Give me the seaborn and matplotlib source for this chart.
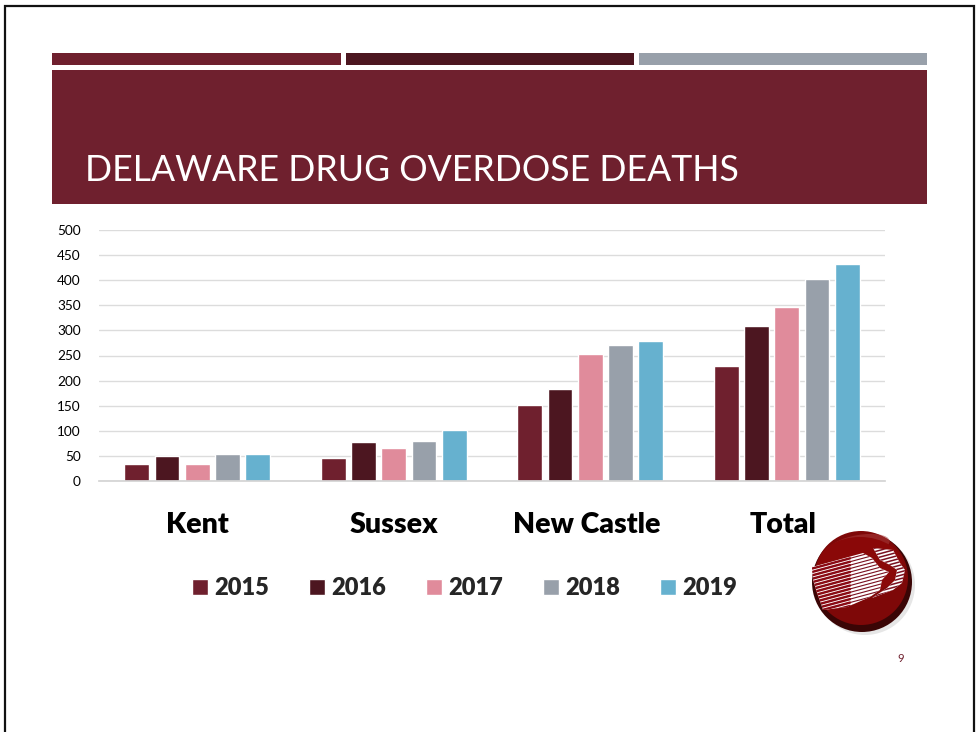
# %%
import numpy as np
import pandas as pd
import seaborn as sns
import matplotlib.pyplot as plt
from matplotlib.patches import Rectangle, Circle, Polygon, Ellipse
from matplotlib.transforms import ScaledTranslation

W, H = 976, 732

counties = ["Kent", "Sussex", "New Castle", "Total"]
years = ["2015", "2016", "2017", "2018", "2019"]
deaths_2015 = [34, 46, 152, 230]
deaths_2016 = [50, 77, 184, 309]
deaths_2017 = [33, 65, 252, 347]
deaths_2018 = [53, 79, 271, 402]
deaths_2019 = [54, 101, 279, 433]
y_ticks = [0, 50, 100, 150, 200, 250, 300, 350, 400, 450, 500]
year_colors = ["#6F202E", "#4C1620", "#E08B9B", "#98A0AA", "#66B1CF"]
title = "DELAWARE DRUG OVERDOSE DEATHS"

sns.set_theme(style="white")
plt.rcParams["font.family"] = ["Lato", "DejaVu Sans"]

df = pd.DataFrame(
    {"county": counties, "2015": deaths_2015, "2016": deaths_2016, "2017": deaths_2017,
     "2018": deaths_2018, "2019": deaths_2019}
).melt(id_vars="county", var_name="year", value_name="deaths")

fig = plt.figure(figsize=(W / 100, H / 100), dpi=100, facecolor="white")
ax = fig.add_axes([99 / W, 1 - 481 / H, (885 - 99) / W, (481 - 230) / H])
ax.patch.set_alpha(0)

sns.barplot(data=df, x="county", y="deaths", hue="year", palette=year_colors,
            width=0.771, gap=0.18, saturation=1, errorbar=None, ax=ax)
ax.set_ylim(0, 500)
ax.set_yticks(y_ticks)
ax.set_xlim(-0.5, 3.5)
ax.set_xlabel("")
ax.set_ylabel("")
ax.yaxis.grid(True, color="#DCDCDC", lw=1)
ax.set_axisbelow(True)
sns.despine(ax=ax, left=True, top=True, right=True)
ax.spines["bottom"].set_color("#D4D4D4")
ax.tick_params(axis="y", length=0, pad=13, labelsize=9.8, colors="black")
ax.tick_params(axis="x", length=0, pad=22)
# the last two labels sit a little left of their bar groups in the original
label_shift = [0, 0, -3.5, -3.5]
for lab, dx in zip(ax.get_xticklabels(), label_shift):
    lab.set_fontsize(20.5)
    lab.set_fontweight("heavy")
    lab.set_color("black")
    lab.set_transform(lab.get_transform() + ScaledTranslation(dx / 100, 0, fig.dpi_scale_trans))

leg = ax.legend(loc="center", bbox_to_anchor=((464.5 - 99) / 786, (481 - 588) / 251), ncol=5, frameon=False,
                handlelength=0.68, handleheight=0.68, handletextpad=0.25, columnspacing=1.7,
                prop={"size": 17, "weight": "heavy"})

# slide decoration, drawn in pixel coordinates
deco = fig.add_axes([0, 0, 1, 1], zorder=5)
deco.set_xlim(0, W)
deco.set_ylim(H, 0)
deco.axis("off")

deco.add_patch(Rectangle((52, 53), 289, 12, color="#6F202E", lw=0))
deco.add_patch(Rectangle((346, 53), 288, 12, color="#4C1620", lw=0))
deco.add_patch(Rectangle((639, 53), 288, 12, color="#98A0AA", lw=0))
deco.add_patch(Rectangle((52, 70), 875, 134, color="#6F202E", lw=0))
deco.text(85, 181, title, color="white", fontsize=25.7, fontweight="normal", va="baseline", ha="left")
deco.text(901, 658, "9", color="#6F202E", fontsize=8, ha="center", va="center")

# slide frame
deco.plot([5, 5, 974, 974], [H, 6, 6, H], color="#111111", lw=1.6, solid_joinstyle="miter")

# logo
cx, cy, r = 862, 582, 50
deco.add_patch(Ellipse((cx + 3, cy + 3), 2 * r, 2 * r, color="#D6D6D6", alpha=0.6, lw=0))
deco.add_patch(Circle((cx, cy), r, color="#3A0505", lw=0))
deco.add_patch(Circle((cx - 1, cy - 4), r - 3, color="#7E0808", lw=0))
deco.add_patch(Ellipse((cx - 3, cy - 36), 62, 22, angle=-10, color="#A93A3A", alpha=0.55, lw=0))
deco.add_patch(Ellipse((cx - 2, cy - 17), 84, 56, color="#8A0808", lw=0))

front_pts = [(812, 567), (863, 553), (872, 558), (880, 568), (889, 572), (882, 580), (880, 590),
             (870, 597), (847, 607), (823, 610), (813, 580)]
back_pts = [(873, 548), (893, 550), (900, 563), (905, 570), (902, 583), (893, 590), (872, 598),
            (887, 588), (895, 580), (897, 570), (890, 565), (880, 560)]
deco.add_patch(Polygon(front_pts, color="white", lw=0, zorder=3))
deco.add_patch(Polygon(back_pts, color="white", lw=0, zorder=3))
clip = Polygon(front_pts, transform=deco.transData)
clip2 = Polygon(back_pts, transform=deco.transData)
for off in np.arange(-22, 40, 3.4):
    xs = np.array([805, 910])
    ys = cy + off - (xs - 812) * 0.27 - 5
    l1, = deco.plot(xs, ys, color="#7A1020", lw=0.8, zorder=4)
    l1.set_clip_path(clip)
    l2, = deco.plot(xs, ys, color="#7A1020", lw=1.1, zorder=4)
    l2.set_clip_path(clip2)
    # darker, thicker stripes over the trailing part of the head
    left_x = np.array([805, 850])
    l3, = deco.plot(left_x, cy + off - (left_x - 812) * 0.27 - 5, color="#8A0A14", lw=1.7, zorder=4)
    l3.set_clip_path(clip)

fig.savefig("out.png", dpi=100)
